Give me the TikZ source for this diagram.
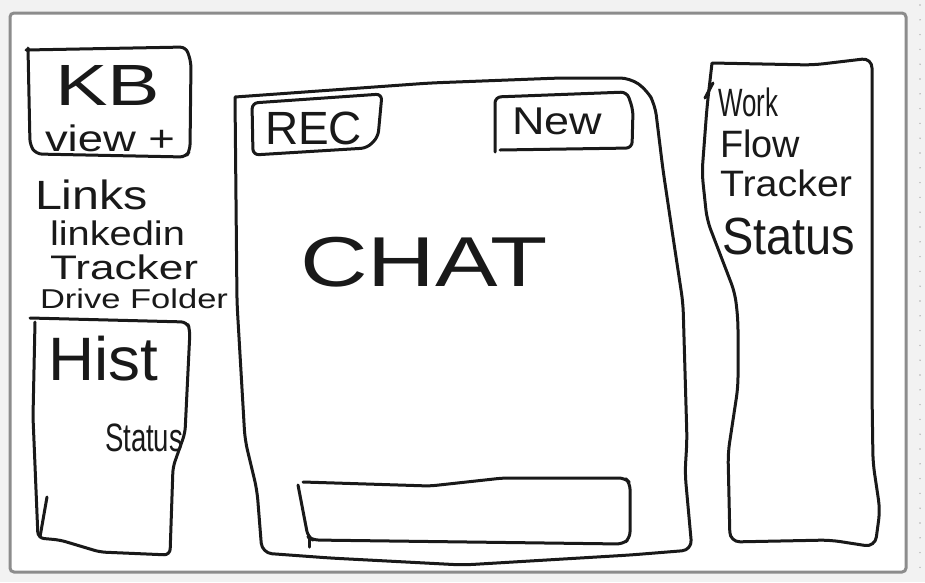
\documentclass[tikz,border=0pt]{standalone}
\usepackage{fontspec}
\setmainfont{Liberation Sans}
\usepackage{graphicx}
\newcommand\hwtext[3]{\resizebox*{#1pt}{#2pt}{#3}}
\begin{document}
\begin{tikzpicture}[x=1pt,y=-1pt,
  ink/.style={draw=black!90, line width=3pt, line cap=round, line join=round, rounded corners=6pt},
  lbl/.style={anchor=north west, inner sep=0pt, outer sep=0pt, text=black!90}]
\useasboundingbox (0,0) rectangle (925,582);
\fill[black!5] (0,0) rectangle (925,582);
\foreach \k in {0,...,38} \fill[black!30] (920,{5+\k*14.8}) circle (0.8);
\draw[draw=black!45, line width=3pt, fill=white, rounded corners=4pt] (10,13) rectangle (906,572);

% KB box
\draw[ink] (26,50)--(186,47)--(191,62)--(190,150)--(186,157)--(36,154)--(30,145)--(28,48);
\node[lbl] (kb) at (55,65) {\hwtext{105}{40}{KB}};
\node[lbl] (view) at (45,125) {\hwtext{130}{27}{view +}};

% Links
\node[lbl] (links) at (35,180) {\hwtext{113}{30}{Links}};
\node[lbl] (linkedin) at (50,221) {\hwtext{135}{25}{linkedin}};
\node[lbl] (tracker1) at (50,255) {\hwtext{148}{25}{Tracker}};
\node[lbl] (drive) at (40,289) {\hwtext{188}{20}{Drive Folder}};

% Hist box
\draw[ink] (30,318)--(187,322)--(190,330)--(185,433)--(173,467)--(170,555)--(100,552)--(60,540)--(38,538)--(33,417)--(35,322);
\draw[ink] (47,497)--(40,537);
\node[lbl] (hist) at (48,336) {\hwtext{110}{45}{Hist}};
\node[lbl] (status1) at (105,424) {\hwtext{78}{28}{Status}};

% Main chat box
\draw[ink, rounded corners=10pt] (235,97)--(430,83)--(560,78)--(630,78)--(647,90)--(655,105)--(663,170)--(673,237)--(683,303)--(687,440)--(685,473)--(692,550)--(630,555)--(463,565)--(330,558)--(262,553)--(257,490)--(245,440)--(237,303)--(235,97);
\draw[ink] (252,103)--(382,94)--(378,137)--(367,148)--(253,155)--cycle;
\node[lbl] (rec) at (265,112) {\hwtext{97}{33}{REC}};
\draw[ink] (500,150)--(632,148)--(633,110)--(627,92)--(495,97)--(495,152);
\node[lbl] (new) at (512,108) {\hwtext{90}{27}{New}};
\node[lbl] (chat) at (300,237) {\hwtext{248}{50}{CHAT}};
\draw[ink] (303,482)--(430,486)--(503,478)--(625,478)--(630,483)--(630,538)--(623,544)--(313,540)--(308,537)--(298,485);
\draw[ink] (309,537)--(309,547);

% Workflow box
\draw[ink, rounded corners=10pt] (712,63)--(813,65)--(872,58)--(872,340)--(872,393)--(873,463)--(880,510)--(875,547)--(830,540)--(730,542)--(728,453)--(738,387)--(738,320)--(735,293)--(707,220)--(702,173)--(707,107)--(712,63);
\draw[ink] (705,98)--(713,83);
\node[lbl] (work) at (718,88) {\hwtext{60}{29}{Work}};
\node[lbl] (flow) at (720,130) {\hwtext{80}{28}{Flow}};
\node[lbl] (tracker2) at (720,170) {\hwtext{132}{27}{Tracker}};
\node[lbl] (status2) at (722,218) {\hwtext{133}{37}{Status}};
\end{tikzpicture}
\end{document}
